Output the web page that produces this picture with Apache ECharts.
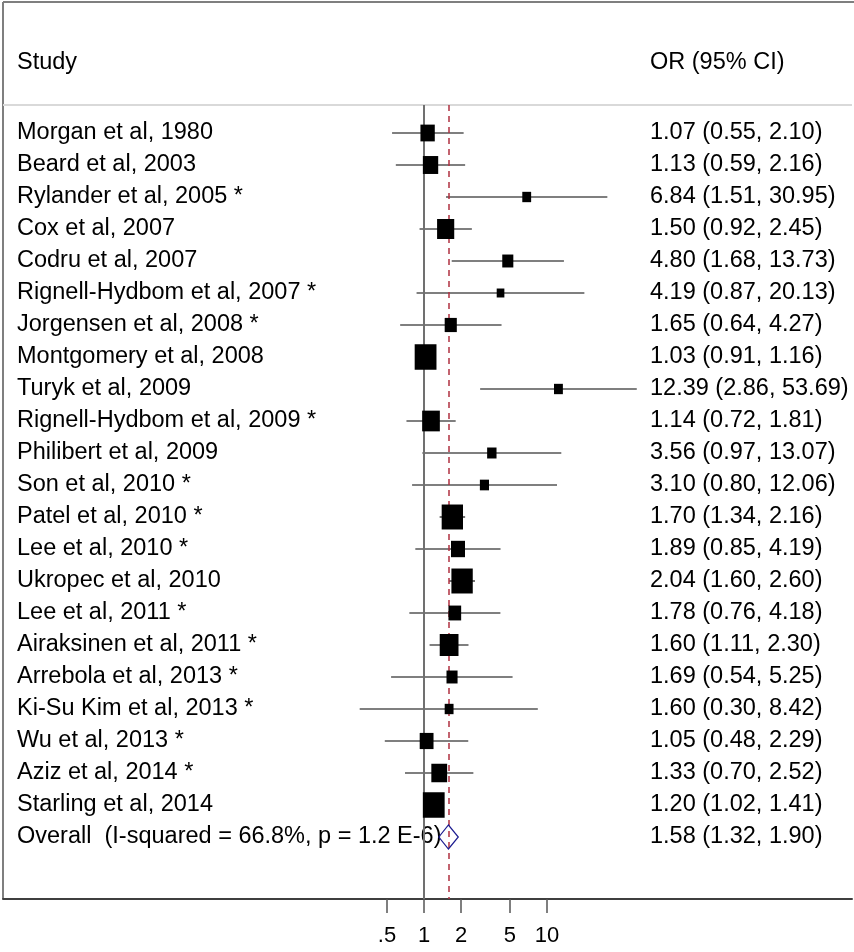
<!DOCTYPE html>
<html>
<head>
<meta charset="utf-8">
<script src="https://cdn.jsdelivr.net/npm/echarts@6/dist/echarts.min.js"></script>
<style>
  html, body { margin: 0; padding: 0; background: #fff; }
  #chart { width: 854px; height: 952px; }
</style>
</head>
<body>
<div id="chart"></div>
<script>
// ---------- data ----------
const studies = [
  'Morgan et al, 1980', 'Beard et al, 2003', 'Rylander et al, 2005 *', 'Cox et al, 2007',
  'Codru et al, 2007', 'Rignell-Hydbom et al, 2007 *', 'Jorgensen et al, 2008 *',
  'Montgomery et al, 2008', 'Turyk et al, 2009', 'Rignell-Hydbom et al, 2009 *',
  'Philibert et al, 2009', 'Son et al, 2010 *', 'Patel et al, 2010 *', 'Lee et al, 2010 *',
  'Ukropec et al, 2010', 'Lee et al, 2011 *', 'Airaksinen et al, 2011 *',
  'Arrebola et al, 2013 *', 'Ki-Su Kim et al, 2013 *', 'Wu et al, 2013 *',
  'Aziz et al, 2014 *', 'Starling et al, 2014'
];
const orValues = [1.07, 1.13, 6.84, 1.50, 4.80, 4.19, 1.65, 1.03, 12.39, 1.14, 3.56, 3.10,
  1.70, 1.89, 2.04, 1.78, 1.60, 1.69, 1.60, 1.05, 1.33, 1.20];
const lowerCI = [0.55, 0.59, 1.51, 0.92, 1.68, 0.87, 0.64, 0.91, 2.86, 0.72, 0.97, 0.80,
  1.34, 0.85, 1.60, 0.76, 1.11, 0.54, 0.30, 0.48, 0.70, 1.02];
const upperCI = [2.10, 2.16, 30.95, 2.45, 13.73, 20.13, 4.27, 1.16, 53.69, 1.81, 13.07, 12.06,
  2.16, 4.19, 2.60, 4.18, 2.30, 5.25, 8.42, 2.29, 2.52, 1.41];
// study weights (%)
const weights = [4.2, 4.8, 1.6, 6.0, 2.5, 1.2, 3.0, 9.7, 1.6, 6.4, 1.8, 1.7,
  9.3, 4.0, 9.3, 3.3, 7.2, 2.5, 1.6, 3.9, 5.1, 9.7];
const overallLabel = 'Overall  (I-squared = 66.8%, p = 1.2 E-6)';
const overall = { or: 1.58, lo: 1.32, hi: 1.90 };
const tickValues = [0.5, 1, 2, 5, 10];
const tickLabels = ['.5', '1', '2', '5', '10'];
const headerLeft = 'Study';
const headerRight = 'OR (95% CI)';

// ---------- build ----------
const lg = Math.log10;
const fmt = v => v.toFixed(2);
const rowNames = studies.concat([overallLabel]);
const rowTexts = orValues.map((v, i) => fmt(v) + ' (' + fmt(lowerCI[i]) + ', ' + fmt(upperCI[i]) + ')')
  .concat([fmt(overall.or) + ' (' + fmt(overall.lo) + ', ' + fmt(overall.hi) + ')']);
const rowIdx = rowNames.map((_, i) => i);

// layout constants
const gridLeft = 3, gridRight = 852, gridTop = 105, gridBottom = 899;
const nullX = 424, decadePx = 123, rowPx = 32, firstRowY = 133;
const xMin = (gridLeft - nullX) / decadePx;
const xMax = (gridRight - nullX) / decadePx;
const yMin = -(firstRowY - gridTop) / rowPx;
const yMax = yMin + (gridBottom - gridTop) / rowPx;
const FONT = 'Liberation Sans, Arial, sans-serif';
const FS = 23.5;

const ciData = studies.map((_, i) => [lg(lowerCI[i]), lg(upperCI[i]), i]);
const boxData = studies.map((_, i) => [lg(orValues[i]), i, weights[i]]);

const chart = echarts.init(document.getElementById('chart'), null, { renderer: 'canvas' });
chart.setOption({
  animation: false,
  backgroundColor: '#fff',
  grid: { left: gridLeft, right: 854 - gridRight, top: gridTop, bottom: 952 - gridBottom, containLabel: false },
  xAxis: {
    type: 'value', min: xMin, max: xMax,
    axisLine: { show: true, onZero: false, lineStyle: { color: '#3f3f3f', width: 2 } },
    axisTick: { show: true, customValues: tickValues.map(lg), length: 14, lineStyle: { color: '#555', width: 1.5 } },
    axisLabel: {
      show: true, customValues: tickValues.map(lg), margin: 26,
      fontSize: 22, color: '#000', fontFamily: FONT,
      formatter: v => {
        let best = 0;
        tickValues.forEach((t, k) => { if (Math.abs(lg(t) - v) < Math.abs(lg(tickValues[best]) - v)) best = k; });
        return tickLabels[best];
      }
    },
    splitLine: { show: false }
  },
  yAxis: [
    {
      type: 'value', inverse: true, min: yMin, max: yMax, position: 'left',
      axisLine: { show: false }, axisTick: { show: false }, splitLine: { show: false },
      axisLabel: {
        show: true, inside: true, margin: 14, customValues: rowIdx,
        fontSize: FS, color: '#000', fontFamily: FONT,
        formatter: v => rowNames[Math.round(v)]
      }
    },
    {
      type: 'value', inverse: true, min: yMin, max: yMax, position: 'right', offset: -(gridRight - 650),
      axisLine: { show: false }, axisTick: { show: false }, splitLine: { show: false },
      axisLabel: {
        show: true, margin: 0, customValues: rowIdx,
        fontSize: FS, color: '#000', fontFamily: FONT,
        formatter: v => rowTexts[Math.round(v)]
      }
    }
  ],
  series: [
    {
      type: 'line', name: 'refs', yAxisIndex: 0, z: 1, data: [],
      markLine: {
        silent: true, symbol: 'none', label: { show: false }, animation: false,
        data: [
          { xAxis: 0, lineStyle: { color: '#707070', width: 2, type: 'solid' } },
          { xAxis: lg(overall.or), lineStyle: { color: '#b03040', width: 1.5, type: [6, 5] } }
        ]
      }
    },
    {
      type: 'custom', name: 'ci', yAxisIndex: 0, z: 3,
      data: ciData,
      renderItem: (params, api) => {
        const a = api.coord([api.value(0), api.value(2)]);
        const b = api.coord([api.value(1), api.value(2)]);
        return { type: 'line', shape: { x1: a[0], y1: a[1], x2: b[0], y2: b[1] },
          style: { stroke: '#000', lineWidth: 1.1 } };
      }
    },
    {
      type: 'scatter', name: 'or', yAxisIndex: 0, z: 5,
      data: boxData,
      symbol: 'rect',
      symbolSize: v => { const w = 7.0 * Math.sqrt(v[2]); return [w, w * 1.17]; },
      itemStyle: { color: '#000', opacity: 1 }
    },
    {
      type: 'custom', name: 'overall', yAxisIndex: 0, z: 6,
      data: [[lg(overall.lo), lg(overall.or), lg(overall.hi), studies.length]],
      renderItem: (params, api) => {
        const y = api.value(3);
        const l = api.coord([api.value(0), y]);
        const c = api.coord([api.value(1), y]);
        const r = api.coord([api.value(2), y]);
        const h = 12;
        return { type: 'polygon',
          shape: { points: [[l[0], l[1]], [c[0], c[1] - h], [r[0], r[1]], [c[0], c[1] + h]] },
          style: { fill: 'none', stroke: '#1c1c90', lineWidth: 1.2 } };
      }
    }
  ],
  graphic: [
    { type: 'line', shape: { x1: 3, y1: 2, x2: 854, y2: 2 }, style: { stroke: '#7f7f7f', lineWidth: 2 }, silent: true },
    { type: 'line', shape: { x1: 3, y1: 2, x2: 3, y2: gridBottom }, style: { stroke: '#7f7f7f', lineWidth: 2 }, silent: true },
    { type: 'line', shape: { x1: 3, y1: gridTop, x2: gridRight, y2: gridTop }, style: { stroke: '#d9d9d9', lineWidth: 2 }, silent: true },
    { type: 'text', left: 17, top: 51, style: { text: headerLeft, font: FS + 'px ' + FONT, fill: '#000' } },
    { type: 'text', left: 650, top: 51, style: { text: headerRight, font: FS + 'px ' + FONT, fill: '#000' } }
  ]
});
</script>
</body>
</html>
